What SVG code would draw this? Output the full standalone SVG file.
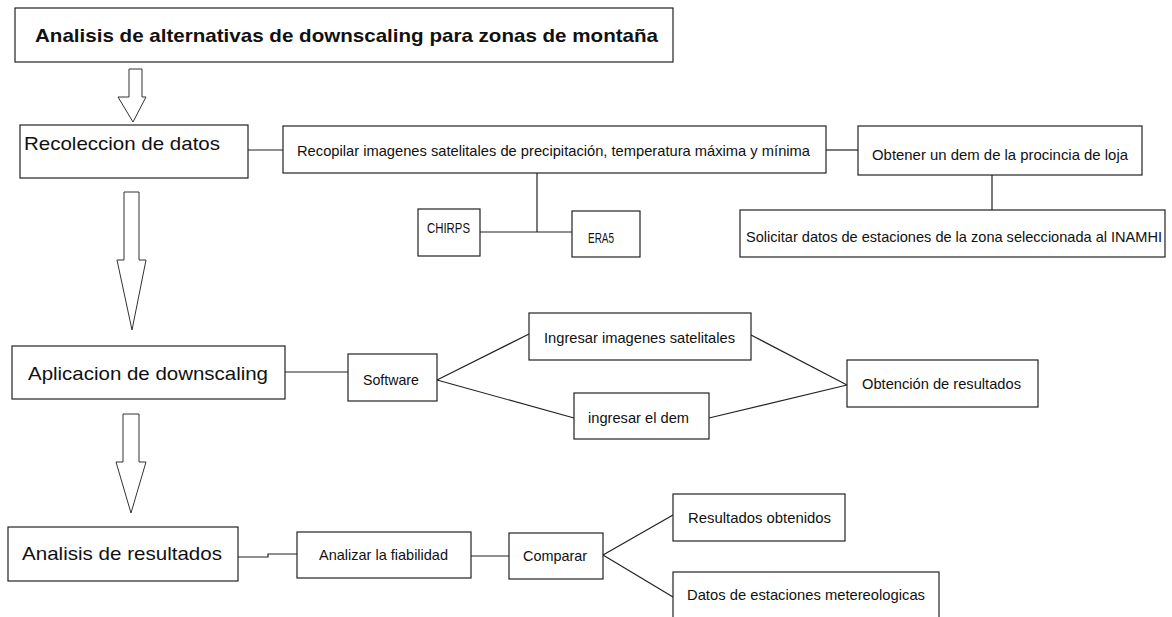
<svg xmlns="http://www.w3.org/2000/svg" width="1172" height="617" viewBox="0 0 1172 617">
<style>
.box{fill:#fff;stroke:#222;stroke-width:1.2}
.ln{fill:none;stroke:#222;stroke-width:1.2}
.arr{fill:#fff;stroke:#333;stroke-width:1}
.t{font-family:"Liberation Sans",Arial,sans-serif;font-size:14.5px;fill:#111}
.big{font-family:"Liberation Sans",Arial,sans-serif;font-size:18.5px;fill:#111}
.title{font-family:"Liberation Sans",Arial,sans-serif;font-size:18.5px;font-weight:bold;fill:#111}
</style>
<rect width="1172" height="617" fill="#fff"/>
<g id="connectors">
<path class="arr" d="M129,69 H142 V97 H146 L133,122 L118,97 H129 Z"/>
<path class="arr" d="M124,192 H139 V260 H146 L132,330 L117,260 H124 Z"/>
<path class="arr" d="M123,414 H139 V462 H146 L131,513 L116,462 H123 Z"/>
<line class="ln" x1="248" y1="150" x2="283" y2="150"/>
<line class="ln" x1="826" y1="150" x2="858" y2="150"/>
<line class="ln" x1="992" y1="175" x2="992" y2="210"/>
<line class="ln" x1="537" y1="173" x2="537" y2="232"/>
<line class="ln" x1="480" y1="232" x2="572" y2="232"/>
<line class="ln" x1="285" y1="372" x2="348" y2="372"/>
<line class="ln" x1="437" y1="380" x2="529" y2="334"/>
<line class="ln" x1="437" y1="380" x2="574" y2="418"/>
<line class="ln" x1="751" y1="335" x2="847" y2="385"/>
<line class="ln" x1="709" y1="418" x2="847" y2="385"/>
<polyline class="ln" points="238,557 268,557 268,554 297,554"/>
<line class="ln" x1="471" y1="556" x2="509" y2="556"/>
<line class="ln" x1="603" y1="555" x2="673" y2="515"/>
<line class="ln" x1="603" y1="555" x2="673" y2="597"/>
</g>
<g id="title"><rect class="box" x="15" y="8" width="658" height="54"/><text class="title" x="35" y="42" textLength="623" lengthAdjust="spacingAndGlyphs">Analisis de alternativas de downscaling para zonas de montaña</text></g>
<g id="recoleccion"><rect class="box" x="20" y="125" width="228" height="53"/><text class="big" x="24" y="150" textLength="196" lengthAdjust="spacingAndGlyphs">Recoleccion de datos</text></g>
<g id="recopilar"><rect class="box" x="283" y="126" width="543" height="47"/><text class="t" x="297" y="156" textLength="513" lengthAdjust="spacingAndGlyphs">Recopilar imagenes satelitales de precipitación, temperatura máxima y mínima</text></g>
<g id="obtener"><rect class="box" x="858" y="126" width="284" height="49"/><text class="t" x="872" y="160" textLength="256" lengthAdjust="spacingAndGlyphs">Obtener un dem de la procincia de loja</text></g>
<g id="solicitar"><rect class="box" x="740" y="210" width="425" height="47"/><text class="t" x="746" y="242" textLength="416" lengthAdjust="spacingAndGlyphs">Solicitar datos de estaciones de la zona seleccionada al INAMHI</text></g>
<g id="chirps"><rect class="box" x="418" y="209" width="62" height="47"/><text class="t" x="427" y="233" textLength="43" lengthAdjust="spacingAndGlyphs">CHIRPS</text></g>
<g id="era5"><rect class="box" x="572" y="211" width="68" height="46"/><text class="t" x="588" y="243" textLength="26" lengthAdjust="spacingAndGlyphs">ERA5</text></g>
<g id="aplicacion"><rect class="box" x="12" y="346" width="273" height="53"/><text class="big" x="28" y="380" textLength="240" lengthAdjust="spacingAndGlyphs">Aplicacion de downscaling</text></g>
<g id="software"><rect class="box" x="348" y="354" width="89" height="47"/><text class="t" x="363" y="385" textLength="56" lengthAdjust="spacingAndGlyphs">Software</text></g>
<g id="ingresar-imagenes"><rect class="box" x="529" y="313" width="222" height="47"/><text class="t" x="544" y="343" textLength="191" lengthAdjust="spacingAndGlyphs">Ingresar imagenes satelitales</text></g>
<g id="ingresar-dem"><rect class="box" x="574" y="393" width="135" height="46"/><text class="t" x="588" y="423" textLength="101" lengthAdjust="spacingAndGlyphs">ingresar el dem</text></g>
<g id="obtencion"><rect class="box" x="847" y="360" width="191" height="47"/><text class="t" x="862" y="389" textLength="159" lengthAdjust="spacingAndGlyphs">Obtención de resultados</text></g>
<g id="analisis"><rect class="box" x="8" y="527" width="230" height="54"/><text class="big" x="22" y="560" textLength="200" lengthAdjust="spacingAndGlyphs">Analisis de resultados</text></g>
<g id="analizar"><rect class="box" x="297" y="532" width="174" height="46"/><text class="t" x="319" y="560" textLength="129" lengthAdjust="spacingAndGlyphs">Analizar la fiabilidad</text></g>
<g id="comparar"><rect class="box" x="509" y="533" width="94" height="46"/><text class="t" x="523" y="561" textLength="64" lengthAdjust="spacingAndGlyphs">Comparar</text></g>
<g id="resultados"><rect class="box" x="673" y="494" width="172" height="47"/><text class="t" x="688" y="523" textLength="143" lengthAdjust="spacingAndGlyphs">Resultados obtenidos</text></g>
<g id="datos"><rect class="box" x="673" y="572" width="266" height="52"/><text class="t" x="687" y="600" textLength="238" lengthAdjust="spacingAndGlyphs">Datos de estaciones metereologicas</text></g>
</svg>
